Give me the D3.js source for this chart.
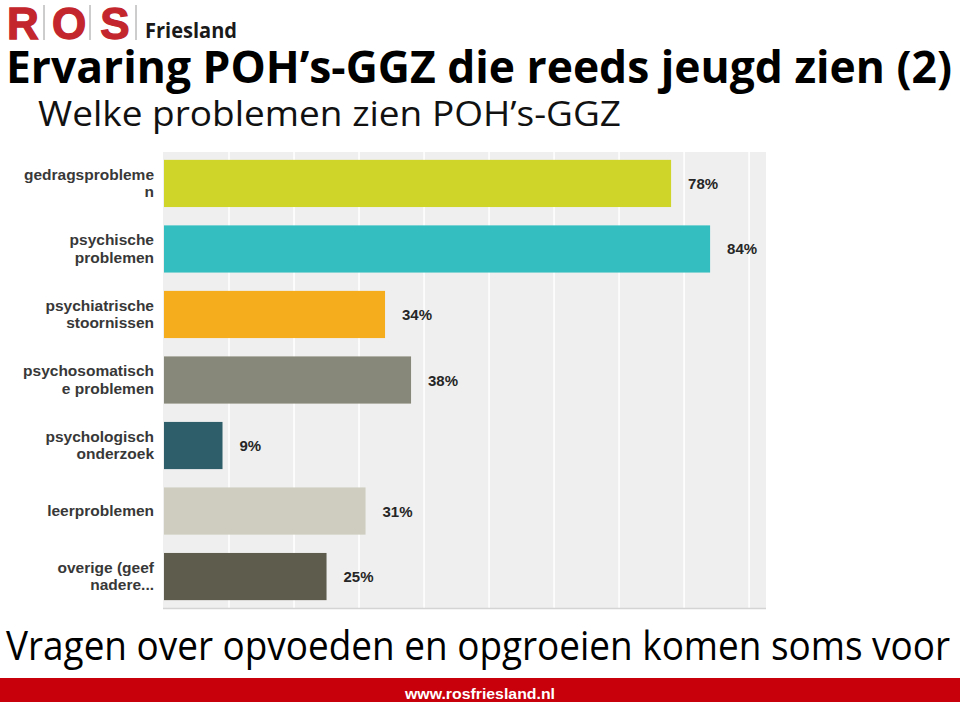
<!DOCTYPE html>
<html><head><meta charset="utf-8">
<script src="https://cdn.jsdelivr.net/npm/d3@7"></script>
<style>body{margin:0;background:#fff}svg{display:block}</style>
</head><body>
<script>
const categories = [
  ["gedragsprobleme","n"],
  ["psychische","problemen"],
  ["psychiatrische","stoornissen"],
  ["psychosomatisch","e problemen"],
  ["psychologisch","onderzoek"],
  ["leerproblemen"],
  ["overige (geef","nadere..."]
];
const values = [78, 84, 34, 38, 9, 31, 25];
const barColors = ["#d0d52a","#35bec0","#f5ad1e","#88887a","#2d5e6a","#cfcdbf","#5e5c4c"];
const gridTicks = [10,20,30,40,50,60,70,80,90];
const title = "Ervaring POH\u2019s-GGZ die reeds jeugd zien (2)";
const subtitle = "Welke problemen zien POH\u2019s-GGZ";
const bottomText = "Vragen over opvoeden en opgroeien komen soms voor";
const footerText = "www.rosfriesland.nl";
const logoLetters = ["R","O","S"];

const W = 960, H = 702;
const svg = d3.select("body").append("svg").attr("width", W).attr("height", H);

// logo
const logoRed = "#c3262c";
const lx = d3.scaleBand().domain(logoLetters).range([0, 138]);
svg.selectAll("text.logo").data(logoLetters).join("text")
  .attr("x", d => lx(d) + lx.bandwidth()/2).attr("y", 39)
  .attr("text-anchor","middle").attr("font-family","Liberation Sans, Arial, sans-serif")
  .attr("font-weight","bold").attr("font-size", 44).attr("fill", logoRed)
  .attr("stroke", logoRed).attr("stroke-width", 1.3).text(d => d);
svg.selectAll("line.logosep").data(logoLetters).join("line")
  .attr("x1", d => lx(d) + lx.bandwidth() - 2).attr("x2", d => lx(d) + lx.bandwidth() - 2)
  .attr("y1", 5).attr("y2", 40).attr("stroke", "#9a9a9a").attr("stroke-width", 1);
svg.append("text").attr("x", 145).attr("y", 38)
  .attr("font-family","Open Sans, sans-serif").attr("font-weight","bold")
  .attr("font-size", 21).attr("fill","#1a1a1a").attr("textLength", 92)
  .attr("lengthAdjust","spacingAndGlyphs").text("Friesland");

// titles
svg.append("text").attr("x", 6).attr("y", 83)
  .attr("font-family","Open Sans, sans-serif").attr("font-weight","bold")
  .attr("font-size", 45).attr("fill","#000").attr("textLength", 946)
  .attr("lengthAdjust","spacingAndGlyphs").text(title);
svg.append("text").attr("x", 38).attr("y", 126)
  .attr("font-family","Open Sans, sans-serif")
  .attr("font-size", 35).attr("fill","#111").attr("textLength", 583)
  .attr("lengthAdjust","spacingAndGlyphs").text(subtitle);

// chart
const x = d3.scaleLinear().domain([0, 92.6]).range([164, 766]);
const y = d3.scaleBand().domain(d3.range(values.length)).range([152, 608])
  .paddingInner(0.28).paddingOuter(0.12);

svg.append("rect").attr("x", 163).attr("y", 152).attr("width", 603).attr("height", 456)
  .attr("fill", "#efefef");
svg.append("g").selectAll("line").data(gridTicks).join("line")
  .attr("x1", d => x(d)).attr("x2", d => x(d)).attr("y1", 152).attr("y2", 608)
  .attr("stroke", "#ffffff").attr("stroke-width", 1.5);
svg.append("line").attr("x1",163).attr("x2",766).attr("y1",608.5).attr("y2",608.5)
  .attr("stroke","#d4d4d4").attr("stroke-width",1.5);

svg.append("g").selectAll("rect").data(values).join("rect")
  .attr("x", x(0)).attr("y", (d,i) => y(i))
  .attr("width", d => x(d) - x(0)).attr("height", y.bandwidth())
  .attr("fill", (d,i) => barColors[i]);

svg.append("g").selectAll("text").data(values).join("text")
  .attr("x", d => x(d) + 17).attr("y", (d,i) => y(i) + y.bandwidth()/2 + 5.5)
  .attr("font-family","Liberation Sans, Arial, sans-serif").attr("font-weight","bold")
  .attr("font-size", 15).attr("fill","#262626").text(d => d + "%");

const lab = svg.append("g").selectAll("text").data(categories).join("text")
  .attr("text-anchor","end").attr("font-family","Liberation Sans, Arial, sans-serif")
  .attr("font-weight","bold").attr("font-size", 15.5).attr("fill","#383838");
lab.each(function(d, i) {
  const t = d3.select(this);
  const cy = y(i) + y.bandwidth()/2;
  const n = d.length;
  d.forEach((line, k) => {
    t.append("tspan").attr("x", 154)
      .attr("y", cy + (k - (n-1)/2) * 17.5 + 5).text(line);
  });
});

// bottom text
svg.append("text").attr("x", 6).attr("y", 660)
  .attr("font-family","Open Sans, sans-serif")
  .attr("font-size", 40).attr("fill","#000").attr("textLength", 944)
  .attr("lengthAdjust","spacingAndGlyphs").text(bottomText);

// footer
svg.append("rect").attr("x", 0).attr("y", 678).attr("width", W).attr("height", 24).attr("fill", "#c8000b");
svg.append("text").attr("x", 480).attr("y", 699).attr("text-anchor","middle")
  .attr("font-family","Liberation Sans Narrow, Liberation Sans, Arial, sans-serif")
  .attr("font-weight","bold").attr("font-size", 15).attr("fill","#fff")
  .attr("textLength", 150).attr("lengthAdjust","spacingAndGlyphs").text(footerText);
</script>
</body></html>
